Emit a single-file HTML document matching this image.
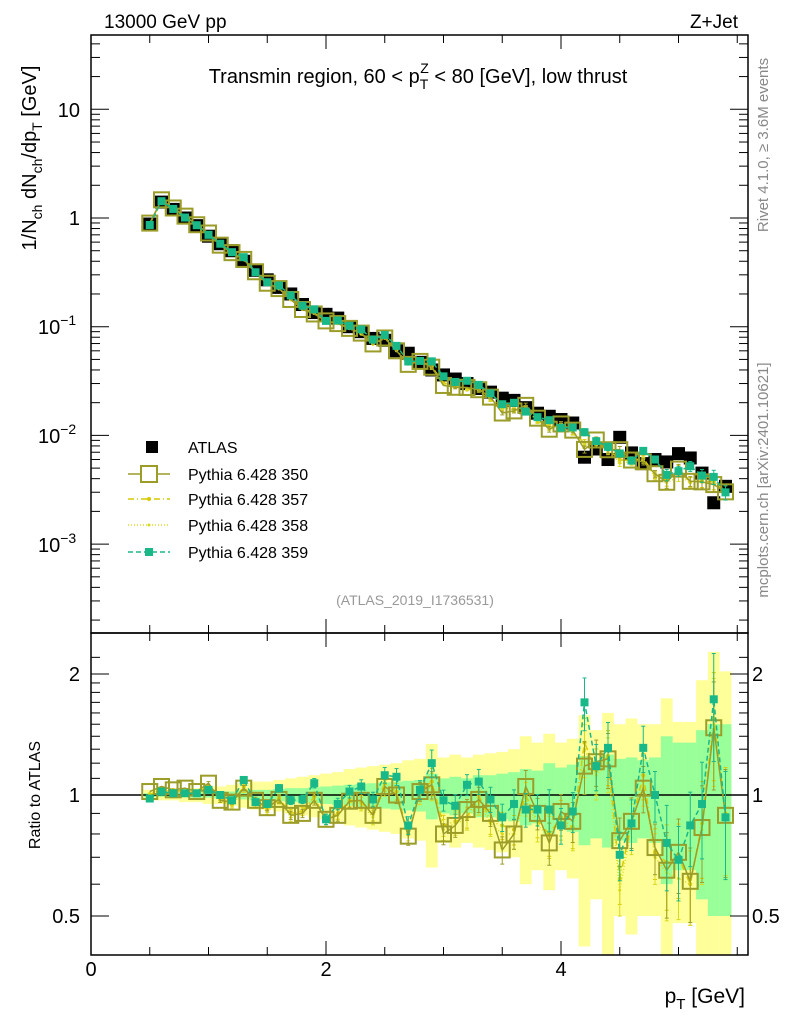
<!DOCTYPE html>
<html><head><meta charset="utf-8"><style>
body{margin:0;background:#fff}
svg{display:block;font-family:"Liberation Sans",sans-serif}
</style></head><body>
<svg id="c" width="786" height="1024" viewBox="0 0 786 1024"></svg>
<script>
const xs=[0.5,0.6,0.7,0.8,0.9,1.0,1.1,1.2,1.3,1.4,1.5,1.6,1.7,1.8,1.9,2.0,2.1,2.2,2.3,2.4,2.5,2.6,2.7,2.8,2.9,3.0,3.1,3.2,3.3,3.4,3.5,3.6,3.7,3.8,3.9,4.0,4.1,4.2,4.3,4.4,4.5,4.6,4.7,4.8,4.9,5.0,5.1,5.2,5.3,5.4];
const atlas=[0.88,1.4,1.2,1.0,0.85,0.68,0.58,0.5,0.4,0.33,0.27,0.23,0.2,0.16,0.135,0.13,0.12,0.1,0.09,0.078,0.075,0.06,0.057,0.047,0.04,0.036,0.033,0.03,0.027,0.025,0.022,0.021,0.018,0.016,0.015,0.014,0.013,0.0063,0.0075,0.006,0.0096,0.0069,0.0055,0.006,0.0057,0.0068,0.0062,0.0045,0.0024,0.0034];
const r350=[1.02,1.05,1.03,1.04,1.02,1.07,0.97,0.96,1.04,0.97,0.93,0.975,0.89,0.9,0.97,0.87,0.89,0.965,0.97,0.89,1.05,1.0,0.79,1.02,1.06,0.8,0.84,0.92,0.975,0.9,0.73,0.8,1.05,0.9,0.76,0.91,0.86,1.18,1.21,1.23,0.77,0.86,1.04,0.74,0.65,0.72,0.61,0.83,1.47,0.89];
const r357=[1.0,1.04,1.03,1.02,1.01,1.05,0.98,0.95,1.05,0.96,0.92,0.98,0.9,0.91,0.99,0.86,0.9,0.97,0.96,0.9,1.07,1.02,0.8,1.02,1.08,0.84,0.86,0.88,1.0,0.86,0.84,0.82,1.0,0.86,0.8,0.88,0.83,1.35,1.15,1.25,0.62,0.85,1.12,0.72,0.68,0.7,0.6,0.85,1.55,0.9];
const r358=[1.01,1.03,1.02,1.02,1.0,1.04,0.97,0.94,1.03,0.95,0.91,0.97,0.88,0.92,0.98,0.88,0.89,0.96,0.95,0.88,1.04,1.0,0.81,1.0,1.05,0.82,0.85,0.87,0.96,0.85,0.8,0.8,0.98,0.84,0.79,0.86,0.82,1.3,1.12,1.2,0.58,0.83,1.08,0.7,0.64,0.62,0.6,0.82,1.5,0.88];
const r359=[0.98,1.02,1.01,1.01,1.01,1.03,1.0,0.97,1.09,0.96,0.95,1.04,0.97,0.975,1.07,0.87,0.95,1.02,1.05,0.975,1.12,1.11,0.84,1.03,1.2,0.97,0.94,1.06,1.08,0.975,0.88,0.95,0.92,0.92,0.92,0.84,0.91,1.7,1.18,1.31,0.71,0.85,1.31,1.0,0.76,0.69,0.84,0.95,1.73,0.88];
const errTot=[0.03,0.03,0.03,0.04,0.04,0.05,0.05,0.06,0.07,0.08,0.08,0.09,0.1,0.11,0.12,0.13,0.14,0.16,0.17,0.18,0.19,0.2,0.22,0.23,0.34,0.24,0.26,0.24,0.26,0.27,0.28,0.3,0.4,0.35,0.42,0.35,0.38,0.58,0.45,0.6,0.5,0.55,0.5,0.5,0.74,0.52,0.52,0.93,1.27,1.03];
const errStat=[0.01,0.01,0.01,0.01,0.015,0.015,0.02,0.02,0.025,0.03,0.03,0.035,0.04,0.04,0.045,0.05,0.055,0.06,0.065,0.07,0.075,0.08,0.085,0.09,0.13,0.1,0.11,0.1,0.12,0.12,0.13,0.14,0.16,0.15,0.2,0.17,0.19,0.25,0.22,0.26,0.23,0.24,0.22,0.24,0.4,0.35,0.35,0.45,0.5,0.5];
const xTicks=[0,2,4];
const ratioTicks=[0.5,1,2];

const NS="http://www.w3.org/2000/svg";
const svg=document.getElementById('c');
const L=91,R=748,T=35,M=633,B=955;
const xS=v=>L+v*117.5;
const yM=v=>218-108.7*Math.log10(v);
const yR=r=>795-402*Math.log10(r);
function el(tag,attrs,parent){const e=document.createElementNS(NS,tag);for(const k in attrs)e.setAttribute(k,attrs[k]);(parent||svg).appendChild(e);return e;}
function txt(x,y,s,attrs){const t=el('text',Object.assign({x:x,y:y},attrs||{}));t.innerHTML=s;return t;}
const hw=5.9;
const defs=el('defs',{});
const cp1=el('clipPath',{id:'cm'},defs);el('rect',{x:L,y:T,width:R-L,height:M-T},cp1);
const cp2=el('clipPath',{id:'cr'},defs);el('rect',{x:L,y:M,width:R-L,height:B-M},cp2);

const gBand=el('g',{'clip-path':'url(#cr)'});


xs.forEach((x,i)=>{
  const lo=Math.max(0.3,1-errTot[i]),hi=1+errTot[i];
  const r=el('rect',{x:xS(x)-hw,y:yR(hi),width:2*hw,height:yR(lo)-yR(hi),fill:'#ffff99'},gBand);
  
  
});
xs.forEach((x,i)=>{
  const lo=Math.max(0.3,1-errStat[i]),hi=1+errStat[i];
  const r=el('rect',{x:xS(x)-hw,y:yR(hi),width:2*hw,height:yR(lo)-yR(hi),fill:'#99ff99'},gBand);
  
  
});
el('line',{x1:L,x2:R,y1:yR(1),y2:yR(1),stroke:'#000','stroke-width':1.5});

const series=[
 {r:r357,c:'#d8c800',dash:'6,3,1,3',name:'pythia-357',mk:'tri'},
 {r:r358,c:'#d8d820',dash:'1,2',name:'pythia-358',mk:'dot'},
 {r:r350,c:'#9c9c28',dash:'',name:'pythia-350',mk:'open'},
 {r:r359,c:'#18b888',dash:'5,3',name:'pythia-359',mk:'fill'}
];
function drawSeries(s,yf,val,clip,panel){
  const g=el('g',{'clip-path':clip});
  
  
  const pts=xs.map((x,i)=>xS(x)+','+yf(val(i))).join(' ');
  el('polyline',{points:pts,fill:'none',stroke:s.c,'stroke-width':1.5,'stroke-dasharray':s.dash},g);
  xs.forEach((x,i)=>{
    const cx=xS(x),cy=yf(val(i));
    const e=errStat[i]*0.6*(panel==='ratio'?1:0.5);
    const v=val(i);
    const y1=yf(v*(1+e)),y2=yf(v*Math.max(0.2,1-e));
    if(y2-y1>3){el('line',{x1:cx,x2:cx,y1:y1,y2:y2,stroke:s.c,'stroke-width':1},g);
      el('line',{x1:cx-2,x2:cx+2,y1:y1,y2:y1,stroke:s.c},g);el('line',{x1:cx-2,x2:cx+2,y1:y2,y2:y2,stroke:s.c},g);}
    let m;
    if(s.mk==='open')m=el('rect',{x:cx-7.5,y:cy-7.5,width:15,height:15,fill:'none',stroke:s.c,'stroke-width':2},g);
    else if(s.mk==='fill')m=el('rect',{x:cx-4,y:cy-4,width:8,height:8,fill:s.c},g);
    else if(s.mk==='tri')m=el('circle',{cx:cx,cy:cy,r:2,fill:s.c},g);
    else m=el('circle',{cx:cx,cy:cy,r:1.5,fill:s.c},g);
    
    
  });
}
const gA=el('g',{'clip-path':'url(#cm)'});


xs.forEach((x,i)=>{
  const m=el('rect',{x:xS(x)-6.5,y:yM(atlas[i])-6.5,width:13,height:13,fill:'#000'},gA);
  
  
});
series.forEach(s=>drawSeries(s,yM,i=>atlas[i]*s.r[i],'url(#cm)','main'));
series.forEach(s=>drawSeries(s,yR,i=>s.r[i],'url(#cr)','ratio'));

el('rect',{x:L,y:T,width:R-L,height:M-T,fill:'none',stroke:'#000','stroke-width':1.5});
el('rect',{x:L,y:M,width:R-L,height:B-M,fill:'none',stroke:'#000','stroke-width':1.5});
for(let v=0;v<=5.5;v+=0.5){
  const x=xS(v),len=(Math.abs(v%2)<1e-6)?14:8;
  [[T,1],[M,-1],[M,1],[B,-1]].forEach(([y,d])=>el('line',{x1:x,x2:x,y1:y,y2:y+d*len,stroke:'#000'}));
}
xTicks.forEach(v=>{const t=txt(xS(v),976,v,{'font-size':20,'text-anchor':'middle'});});
for(let d=-4;d<=1;d++){
  for(let k=1;k<10;k++){
    const v=k*Math.pow(10,d);const y=yM(v);if(y<T||y>M)continue;
    const len=k===1?18:9;
    el('line',{x1:L,x2:L+len,y1:y,y2:y,stroke:'#000'});el('line',{x1:R,x2:R-len,y1:y,y2:y,stroke:'#000'});
  }
}
[['10',110],['1',218]].forEach(([s,y])=>{const t=txt(80,y+7,s,{'font-size':20,'text-anchor':'end'});});
[['−1',327],['−2',436],['−3',545]].forEach(([s,y])=>{const t=txt(38,y+7,'10<tspan dy="-9" font-size="14">'+s+'</tspan>',{'font-size':20});});
[0.4,0.5,0.6,0.7,0.8,0.9,1,1.1,1.2,1.3,1.4,1.5,1.6,1.7,1.8,1.9,2,2.2].forEach(v=>{
  const y=yR(v);if(y<M||y>B)return;const len=(v===0.5||v===1||v===2)?18:9;
  el('line',{x1:L,x2:L+len,y1:y,y2:y,stroke:'#000'});el('line',{x1:R,x2:R-len,y1:y,y2:y,stroke:'#000'});
});
ratioTicks.forEach(v=>{
  let t=txt(80,yR(v)+7,v,{'font-size':20,'text-anchor':'end'});
  t=txt(752,yR(v)+7,v,{'font-size':20});
});
</script>
<svg width="786" height="1024" viewBox="0 0 786 1024" style="position:absolute;left:0;top:0;font-family:'Liberation Sans',sans-serif">
<text x="104" y="28" font-size="19">13000 GeV pp</text>
<text x="738" y="28" font-size="19" text-anchor="end">Z+Jet</text>
<text x="418" y="83" font-size="20" text-anchor="middle">Transmin region, 60 &lt; p<tspan dy="6" font-size="14">T</tspan><tspan dx="-8" dy="-16" font-size="14">Z</tspan><tspan dy="10"> &lt; 80 [GeV], low thrust</tspan></text>
<text transform="translate(36,158) rotate(-90)" font-size="20" text-anchor="middle">1/N<tspan dy="6" font-size="14">ch</tspan><tspan dy="-6"> dN</tspan><tspan dy="6" font-size="14">ch</tspan><tspan dy="-6">/dp</tspan><tspan dy="6" font-size="14">T</tspan><tspan dy="-6"> [GeV]</tspan></text>
<text transform="translate(40,795) rotate(-90)" font-size="16" text-anchor="middle">Ratio to ATLAS</text>
<text x="745" y="1003" font-size="21" text-anchor="end">p<tspan dy="6" font-size="15">T</tspan><tspan dy="-6"> [GeV]</tspan></text>
<text transform="translate(768,145) rotate(-90)" font-size="15" fill="#888" text-anchor="middle">Rivet 4.1.0, ≥ 3.6M events</text>
<text transform="translate(768,480) rotate(-90)" font-size="15" fill="#888" text-anchor="middle">mcplots.cern.ch [arXiv:2401.10621]</text>
<text x="415" y="605" font-size="14" fill="#999" text-anchor="middle">(ATLAS_2019_I1736531)</text>
<g font-size="16">
 <g><rect x="146" y="441" width="12" height="12" fill="#000"/><text x="188" y="453">ATLAS</text></g>
 <g><line x1="128" x2="170" y1="474" y2="474" stroke="#9c9c28" stroke-width="1.5"/><rect x="141" y="466" width="16" height="16" fill="#fff" stroke="#9c9c28" stroke-width="2"/><text x="188" y="480">Pythia 6.428 350</text></g>
 <g><line x1="128" x2="170" y1="499" y2="499" stroke="#d8c800" stroke-width="1.5" stroke-dasharray="6,3,1,3"/><circle cx="149" cy="499" r="2" fill="#d8c800"/><text x="188" y="505">Pythia 6.428 357</text></g>
 <g><line x1="128" x2="170" y1="525" y2="525" stroke="#d8d820" stroke-width="1.5" stroke-dasharray="1,2"/><circle cx="149" cy="525" r="1.5" fill="#d8d820"/><text x="188" y="531">Pythia 6.428 358</text></g>
 <g><line x1="128" x2="170" y1="552" y2="552" stroke="#18b888" stroke-width="1.5" stroke-dasharray="5,3"/><rect x="145" y="548" width="8" height="8" fill="#18b888"/><text x="188" y="558">Pythia 6.428 359</text></g>
</g>
</svg>
</body></html>
